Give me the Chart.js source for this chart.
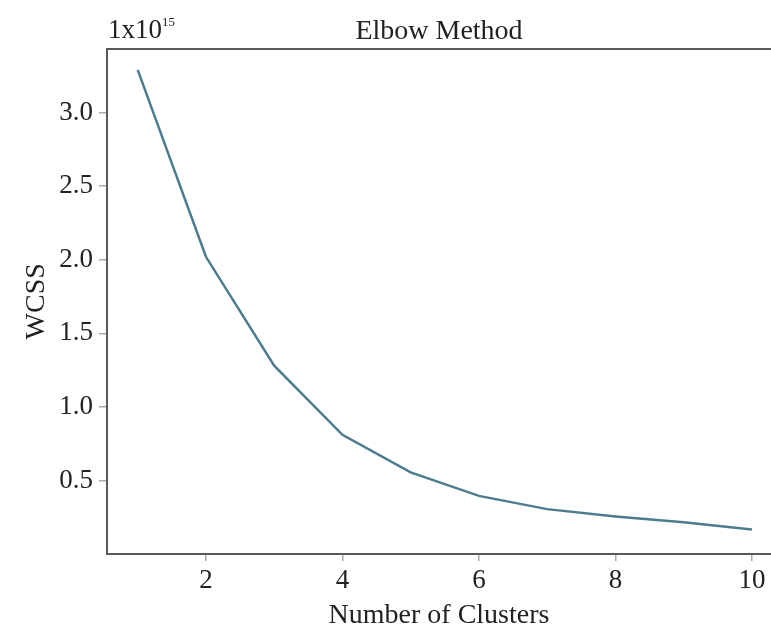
<!DOCTYPE html>
<html>
<head>
<meta charset="utf-8">
<script src="https://cdn.jsdelivr.net/npm/chart.js@4"></script>
<style>
  html, body { margin: 0; padding: 0; background: #fff; }
  #wrap { position: relative; width: 771px; height: 632px; }
  #mult { position: absolute; left: 108px; top: 15px; font-family: "Liberation Serif", "Times New Roman", serif; font-size: 27px; color: #222; line-height: 1; }
  #mult sup { font-size: 13px; vertical-align: 12px; }
</style>
</head>
<body>
<div id="wrap">
  <canvas id="c" width="771" height="632"></canvas>
  <div id="mult">1x10<sup>15</sup></div>
</div>
<script>
const clusters = [1, 2, 3, 4, 5, 6, 7, 8, 9, 10];
const wcss = [3.29, 2.02, 1.28, 0.81, 0.555, 0.395, 0.305, 0.255, 0.215, 0.167];
const xTicks = [2, 4, 6, 8, 10];
const yTicks = [0.5, 1.0, 1.5, 2.0, 2.5, 3.0];
const titleText = "Elbow Method";
const xTitle = "Number of Clusters";
const yTitle = "WCSS";

const serif = "'Liberation Serif', 'Times New Roman', serif";
const axisColor = '#5a5a5a';

new Chart(document.getElementById('c'), {
  type: 'line',
  data: {
    datasets: [{
      data: clusters.map((x, i) => ({ x: x, y: wcss[i] })),
      borderColor: '#4b7c8f',
      borderWidth: 2.5,
      pointRadius: 0,
      fill: false,
      tension: 0
    }]
  },
  options: {
    responsive: false,
    animation: false,
    layout: { padding: { left: 0, right: 0, top: 0, bottom: 0 } },
    plugins: {
      legend: { display: false },
      tooltip: { enabled: false },
      title: {
        display: true,
        text: titleText,
        fullSize: false,
        color: '#222',
        font: { family: serif, size: 28, weight: 'normal' },
        padding: { top: 15, bottom: 0 }
      }
    },
    scales: {
      x: {
        type: 'linear',
        min: 0.55,
        max: 10.28,
        afterBuildTicks: (s) => { s.ticks = xTicks.map(v => ({ value: v })); },
        afterFit: (s) => { s.height = 78; },
        ticks: {
          color: '#222',
          font: { family: serif, size: 27 },
          padding: 4,
          callback: (v) => String(v),
          maxRotation: 0
        },
        grid: { drawOnChartArea: false, drawTicks: true, tickLength: 7, color: '#aaa', lineWidth: 1.5 },
        border: { display: true, color: axisColor, width: 2 },
        title: {
          display: true,
          text: xTitle,
          color: '#222',
          font: { family: serif, size: 28 },
          padding: { top: 2, bottom: 0 }
        }
      },
      xTop: {
        type: 'linear',
        position: 'top',
        min: 0.55,
        max: 10.28,
        afterFit: (s) => { s.height = 0; },
        ticks: { display: false },
        grid: { drawOnChartArea: false, drawTicks: false },
        border: { display: true, color: axisColor, width: 2 }
      },
      y: {
        type: 'linear',
        min: 0,
        max: 3.435,
        afterBuildTicks: (s) => { s.ticks = yTicks.map(v => ({ value: v })); },
        afterFit: (s) => { s.width = 107; },
        ticks: {
          color: '#222',
          font: { family: serif, size: 27 },
          padding: 6,
          callback: (v) => v.toFixed(1)
        },
        grid: { drawOnChartArea: false, drawTicks: true, tickLength: 8, color: '#aaa', lineWidth: 1.5 },
        border: { display: true, color: axisColor, width: 2 },
        title: {
          display: true,
          text: yTitle,
          color: '#222',
          font: { family: serif, size: 28 },
          padding: { top: 20, bottom: 0 }
        }
      }
    }
  }
});
</script>
</body>
</html>
